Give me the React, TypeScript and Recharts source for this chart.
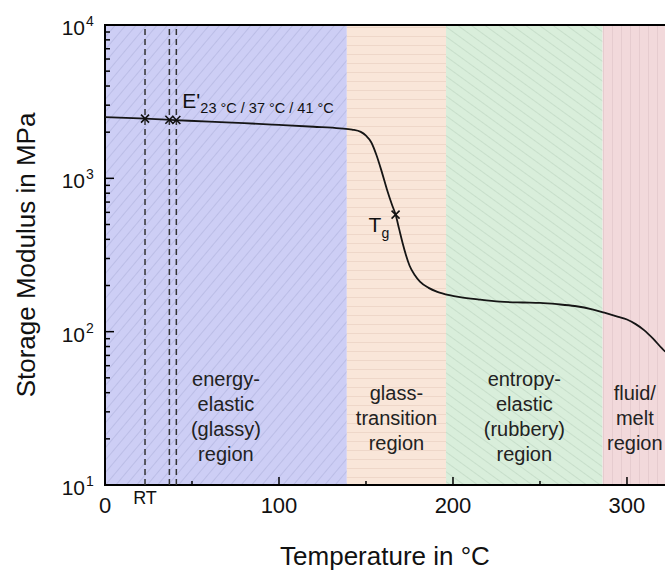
import React from 'react';
import {
  ComposedChart,
  Line,
  Scatter,
  XAxis,
  YAxis,
  ReferenceArea,
  ReferenceLine,
  ReferenceDot,
} from 'recharts';

// storage modulus curve (°C, MPa)
const temps = [0, 20, 40, 60, 80, 100, 120, 135, 142, 147, 150, 153, 156, 159, 162, 165, 167, 169, 171, 173, 175, 178, 181, 186, 191, 198, 204, 215, 227, 240, 250, 260, 270, 280, 287, 295, 300, 305, 310, 315, 320, 322];
const modulus = [2510, 2460, 2400, 2340, 2290, 2230, 2170, 2120, 2080, 2010, 1900, 1720, 1420, 1110, 850, 670, 580, 470, 380, 315, 270, 234, 212, 193, 182, 173, 168, 162, 157, 155, 154, 151, 147, 140, 133, 125, 120, 112, 102, 90, 78, 74];

// marked points: E' at 23 / 37 / 41 °C and Tg
const markTemps = [23, 37, 41, 167];
const markModulus = [2450, 2410, 2400, 580];
const dashedTemps = [23, 37, 41];

const xTicks = [0, 50, 100, 150, 200, 250, 300];
const yTicks = [10, 20, 30, 40, 50, 60, 70, 80, 90, 100, 200, 300, 400, 500, 600, 700, 800, 900, 1000, 2000, 3000, 4000, 5000, 6000, 7000, 8000, 9000, 10000];

// axis limits
const tMin = 0;
const tMax = 323;
const eMin = 10;
const eMax = 10000;

// region bounds in °C
const regionBounds = [0, 139, 196, 286, 323];
const regionFills = ['url(#hatchGlassy)', 'url(#hatchTransition)', 'url(#hatchRubbery)', 'url(#hatchMelt)'];
const regionLines = [
  ['energy-', 'elastic', '(glassy)', 'region'],
  ['glass-', 'transition', 'region'],
  ['entropy-', 'elastic', '(rubbery)', 'region'],
  ['fluid/', 'melt', 'region'],
];

const curve = temps.map((t, i) => ({ t, e: modulus[i] }));
const marks = markTemps.map((t, i) => ({ t, e: markModulus[i] }));

const FONT = '"Liberation Sans", Arial, sans-serif';

const isDecade = (v: number) => {
  const exp = Math.log10(v);
  return Math.abs(exp - Math.round(exp)) < 1e-6;
};

const XTick = ({ x, y, payload }: any) =>
  payload.value % 100 === 0 ? (
    <text x={x} y={y + 28} textAnchor="middle" fontSize={22} fill="#111" fontFamily={FONT}>
      {payload.value}
    </text>
  ) : null;

const YTick = ({ x, y, payload }: any) =>
  isDecade(payload.value) ? (
    <g fontFamily={FONT} fill="#111">
      <text x={x - 20} y={y + 10} textAnchor="end" fontSize={21}>10</text>
      <text x={x - 19} y={y + 1} fontSize={14}>{Math.round(Math.log10(payload.value))}</text>
    </g>
  ) : null;

// inward tick marks, drawn from a reference dot's label so they sit above the fills
const xTickMark = (len: number) => (props: any) => {
  const { x, y, width, height } = props.viewBox;
  const cx = x + width / 2;
  const cy = y + height / 2;
  return <line x1={cx} x2={cx} y1={cy} y2={cy - len} stroke="#000" strokeWidth={1.5} />;
};
const yTickMark = (len: number) => (props: any) => {
  const { x, y, width, height } = props.viewBox;
  const cx = x + width / 2;
  const cy = y + height / 2;
  return <line x1={cx} x2={cx + len} y1={cy} y2={cy} stroke="#000" strokeWidth={1.5} />;
};

const cross = ({ cx, cy }: any) => (
  <path
    d={`M${cx - 4},${cy - 4}L${cx + 4},${cy + 4}M${cx - 4},${cy + 4}L${cx + 4},${cy - 4}`}
    stroke="#111"
    strokeWidth={1.6}
    fill="none"
  />
);

const regionLabel = (lines: string[], lastFromBottom: number) => (props: any) => {
  const { x, y, width, height } = props.viewBox;
  const cx = x + width / 2;
  const bottom = y + height;
  const n = lines.length;
  return (
    <g>
      {lines.map((s, i) => (
        <text
          key={s + i}
          x={cx}
          y={bottom - lastFromBottom - (n - 1 - i) * 25}
          textAnchor="middle"
          fontSize={20}
          fill="#222"
          fontFamily={FONT}
        >
          {s}
        </text>
      ))}
    </g>
  );
};

const rtLabel = (props: any) => {
  const { x, y, height } = props.viewBox;
  return (
    <text x={x} y={y + height + 19} textAnchor="middle" fontSize={18} fill="#111" fontFamily={FONT}>
      RT
    </text>
  );
};

const eLabel = (props: any) => {
  const { x, y, width, height } = props.viewBox;
  const cx = x + width / 2;
  const cy = y + height / 2;
  return (
    <g fontFamily={FONT} fill="#111">
      <text x={cx + 6} y={cy - 12} fontSize={21}>E'</text>
      <text x={cx + 24} y={cy - 7} fontSize={14.5}>23 °C / 37 °C / 41 °C</text>
    </g>
  );
};

const tgLabel = (props: any) => {
  const { x, y, width, height } = props.viewBox;
  const cx = x + width / 2;
  const cy = y + height / 2;
  return (
    <g fontFamily={FONT} fill="#111">
      <text x={cx - 27} y={cy + 17} fontSize={21}>T</text>
      <text x={cx - 14} y={cy + 23} fontSize={14}>g</text>
    </g>
  );
};

const xTitle = (props: any) => {
  const { x, y } = props.viewBox;
  return (
    <text x={x + 280} y={y + 80} textAnchor="middle" fontSize={26} fill="#111" fontFamily={FONT}>
      Temperature in °C
    </text>
  );
};

const yTitle = (props: any) => {
  const { y, height } = props.viewBox;
  const cy = y + height / 2;
  return (
    <text
      x={35}
      y={cy}
      transform={`rotate(-90 35 ${cy})`}
      textAnchor="middle"
      fontSize={26}
      fill="#111"
      fontFamily={FONT}
    >
      Storage Modulus in MPa
    </text>
  );
};

export default function App() {
  return (
    <div style={{ position: 'absolute', left: 0, top: 0, width: 665, height: 574, background: '#fff', overflow: 'hidden' }}>
      <ComposedChart width={667} height={574} data={curve} margin={{ top: 25, right: 0, bottom: 0, left: 0 }}>
        <defs>
          <pattern id="hatchGlassy" patternUnits="userSpaceOnUse" width={8} height={8} patternTransform="rotate(40)">
            <rect width={8} height={8} fill="#cdcef5" />
            <line x1={0} y1={0} x2={0} y2={8} stroke="#adafdb" strokeWidth={1.1} />
          </pattern>
          <pattern id="hatchTransition" patternUnits="userSpaceOnUse" width={9} height={9}>
            <rect width={9} height={9} fill="#f9e6d9" />
            <line x1={0} y1={0} x2={9} y2={0} stroke="#ebd3c4" strokeWidth={1.5} />
          </pattern>
          <pattern id="hatchRubbery" patternUnits="userSpaceOnUse" width={8} height={8} patternTransform="rotate(-54)">
            <rect width={8} height={8} fill="#d9eedb" />
            <line x1={0} y1={0} x2={0} y2={8} stroke="#b9d2bd" strokeWidth={1.1} />
          </pattern>
          <pattern id="hatchMelt" patternUnits="userSpaceOnUse" width={9} height={9}>
            <rect width={9} height={9} fill="#f2d9db" />
            <line x1={0} y1={0} x2={0} y2={9} stroke="#dcc2c5" strokeWidth={1.1} />
          </pattern>
        </defs>

        <XAxis
          dataKey="t"
          type="number"
          domain={[tMin, tMax]}
          ticks={xTicks}
          interval={0}
          tickSize={0}
          tickMargin={0}
          tick={<XTick />}
          height={89}
          axisLine={false}
          label={{ content: xTitle }}
        />
        <YAxis
          type="number"
          scale="log"
          domain={[eMin, eMax]}
          ticks={yTicks}
          interval={0}
          tickSize={0}
          tickMargin={0}
          tick={<YTick />}
          width={105}
          axisLine={false}
          label={{ content: yTitle }}
        />

        {regionFills.map((fill, i) => (
          <ReferenceArea
            key={fill}
            x1={regionBounds[i]}
            x2={regionBounds[i + 1]}
            y1={eMin}
            y2={eMax}
            fill={fill}
            fillOpacity={1}
            stroke="none"
            label={{ content: regionLabel(regionLines[i], i % 2 === 0 ? 24 : 35) }}
          />
        ))}

        {/* plot frame; the right edge falls just outside the page */}
        <ReferenceArea
          x1={tMin}
          x2={tMax}
          y1={eMin}
          y2={eMax}
          fill="none"
          fillOpacity={0}
          stroke="#000"
          strokeWidth={2}
          ifOverflow="visible"
        />

        {dashedTemps.map((t, i) => (
          <ReferenceLine
            key={t}
            x={t}
            stroke="#333"
            strokeWidth={1.5}
            strokeDasharray="6 4"
            label={i === 0 ? { content: rtLabel } : undefined}
          />
        ))}

        {xTicks.map((t) => (
          <ReferenceDot
            key={'xt' + t}
            x={t}
            y={eMin}
            r={1}
            fill="none"
            stroke="none"
            ifOverflow="visible"
            label={{ content: xTickMark(t % 100 === 0 ? 8 : 4) }}
          />
        ))}
        {yTicks.map((v) => (
          <ReferenceDot
            key={'yt' + v}
            x={tMin}
            y={v}
            r={1}
            fill="none"
            stroke="none"
            ifOverflow="visible"
            label={{ content: yTickMark(isDecade(v) ? 9 : 5) }}
          />
        ))}

        <Line
          dataKey="e"
          type="monotone"
          stroke="#151515"
          strokeWidth={1.8}
          dot={false}
          activeDot={false}
          isAnimationActive={false}
        />
        <Scatter data={marks} dataKey="e" shape={cross} isAnimationActive={false} />

        <ReferenceDot x={markTemps[2]} y={markModulus[2]} r={1} fill="none" stroke="none" label={{ content: eLabel }} />
        <ReferenceDot x={markTemps[3]} y={markModulus[3]} r={1} fill="none" stroke="none" label={{ content: tgLabel }} />
      </ComposedChart>
    </div>
  );
}
